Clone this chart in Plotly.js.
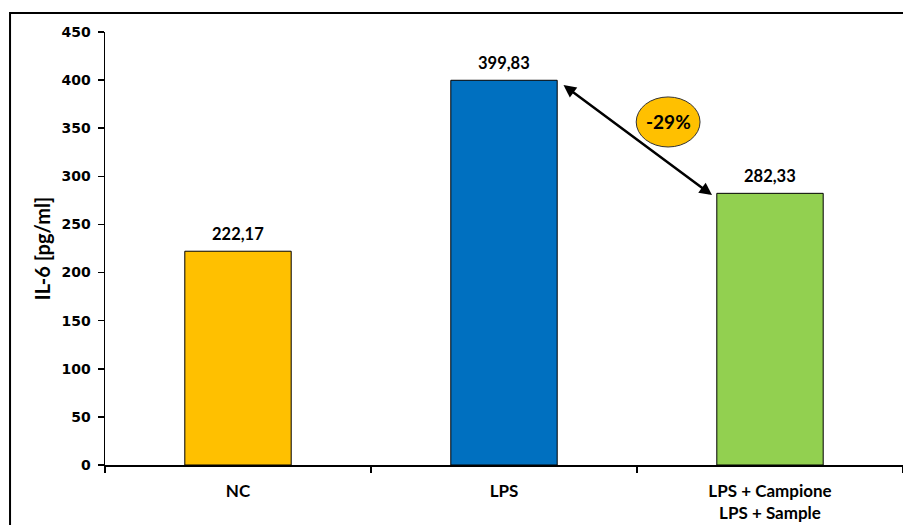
<!DOCTYPE html>
<html>
<head>
<meta charset="utf-8">
<script src="https://cdn.plot.ly/plotly-3.0.1.min.js"></script>
<style>html,body{margin:0;padding:0;background:#fff;}#chart{width:903px;height:525px;}</style>
</head>
<body>
<div id="chart"></div>
<script>
const categories = ["NC", "LPS", "LPS + Campione<br>LPS + Sample"];
const values = [222.17, 399.83, 282.33];
const valueLabels = ["222,17", "399,83", "282,33"];
const barColors = ["#FFC000", "#0070C0", "#92D050"];
const yTicks = [0, 50, 100, 150, 200, 250, 300, 350, 400, 450];
const changeLabel = "-29%";

const labelFont = {family: "Lato, 'Open Sans', sans-serif", size: 16.5, color: "#000", weight: "bold"};

const trace = {
  type: "bar",
  x: categories,
  y: values,
  width: 0.4,
  marker: {color: barColors, line: {color: "#000", width: 1}},
  hoverinfo: "none"
};

const valueAnns = categories.map((c, i) => ({
  xref: "x", yref: "y", x: c, y: values[i], text: valueLabels[i],
  showarrow: false, yanchor: "bottom", yshift: 5, font: labelFont
}));

const layout = {
  width: 903, height: 525,
  margin: {l: 105, r: 0, t: 32, b: 60},
  paper_bgcolor: "#fff", plot_bgcolor: "#fff",
  showlegend: false,
  font: {family: "'DejaVu Sans', sans-serif", color: "#000"},
  xaxis: {
    type: "category",
    range: [-0.5, 2.5],
    showline: true, linecolor: "#000", linewidth: 1.5,
    ticks: "outside", tickson: "boundaries", ticklen: 6, tickcolor: "#000", tickwidth: 1.5,
    tickfont: {family: "Lato, 'Open Sans', sans-serif", size: 17, color: "#000", weight: "bold"},
    ticklabelstandoff: 10,
    showgrid: false, zeroline: false, fixedrange: true
  },
  yaxis: {
    range: [0, 450],
    tickvals: yTicks,
    ticktext: yTicks.map(String),
    showline: true, linecolor: "#000", linewidth: 1.5,
    ticks: "outside", ticklen: 6, tickcolor: "#000", tickwidth: 1.5,
    tickfont: {family: "'DejaVu Sans', sans-serif", size: 14, color: "#000", weight: "bold"},
    ticklabelstandoff: 4,
    showgrid: false, zeroline: false, fixedrange: true,
    title: {text: "IL-6 [pg/ml]", font: {family: "Lato, 'Open Sans', sans-serif", size: 20, color: "#000", weight: "bold"}, standoff: 5}
  },
  shapes: [
    {type: "rect", xref: "paper", yref: "paper", x0: -0.119, x1: 1.1, y0: -0.3, y1: 1.0439,
     line: {color: "#000", width: 2}, fillcolor: "rgba(0,0,0,0)", layer: "above"},
    {type: "circle", xref: "x", yref: "y", x0: 1.497, x1: 1.737, y0: 330.5, y1: 382.5,
     line: {color: "#333", width: 1}, fillcolor: "#FFC000", layer: "above"}
  ],
  annotations: valueAnns.concat([
    {xref: "x", yref: "y", x: 1.782, y: 280.5, ax: 1.218, ay: 396, axref: "x", ayref: "y",
     showarrow: true, arrowhead: 2, startarrowhead: 2, arrowside: "end+start",
     arrowsize: 1, startarrowsize: 1, arrowwidth: 2.5, arrowcolor: "#000", text: ""},
    {xref: "x", yref: "y", x: 1.617, y: 356.5, text: changeLabel, showarrow: false,
     font: {family: "Lato, 'Open Sans', sans-serif", size: 19, color: "#000", weight: "bold"}}
  ])
};

Plotly.newPlot("chart", [trace], layout, {displayModeBar: false, staticPlot: true});
</script>
</body>
</html>
